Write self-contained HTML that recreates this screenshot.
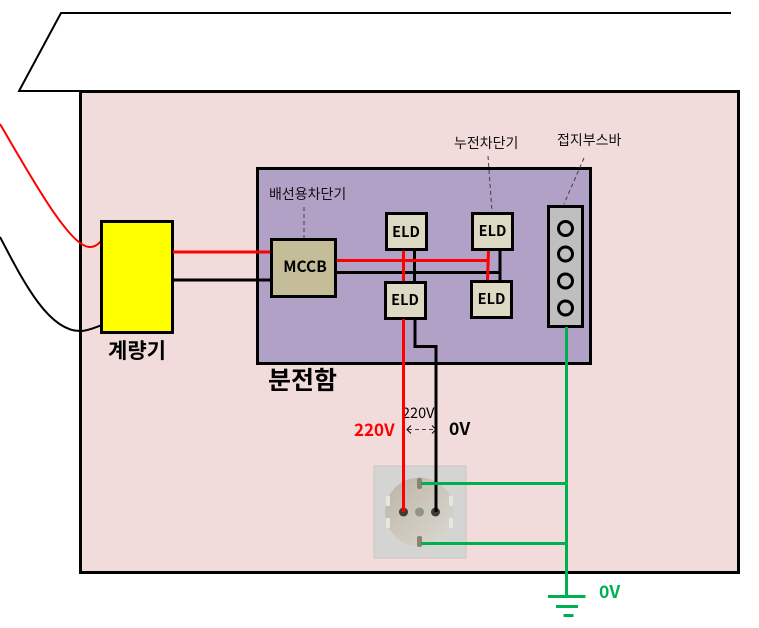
<!DOCTYPE html>
<html><head><meta charset="utf-8">
<style>
html,body{margin:0;padding:0;background:#fff;width:759px;height:628px;overflow:hidden}
svg{display:block}
text{font-family:"Noto Sans CJK KR","NanumGothic",sans-serif}
.e{font-weight:bold;font-size:14.500px;text-anchor:middle}
</style></head><body>
<svg width="759" height="628" viewBox="0 0 759 628" xmlns="http://www.w3.org/2000/svg">
<defs>
<linearGradient id="g" x1="0" y1="0" x2="1" y2="1"><stop offset="0" stop-color="#bdb3a6"/><stop offset="1" stop-color="#dcdad3"/></linearGradient>
</defs>
<path d="M731 13H61L19 91H80" fill="none" stroke="#000" stroke-width="2"/>
<rect x="80.500" y="91.500" width="658" height="481" fill="#f2dcdb" stroke="#000" stroke-width="3"/>
<path d="M0 124C30 175 70 248 90 247C96 247 99 243 102 240" fill="none" stroke="#f00" stroke-width="2"/>
<path d="M0 237C25 285 50 333 82 331C90 330 96 327 102 325" fill="none" stroke="#000" stroke-width="2"/>
<rect x="257.500" y="168.500" width="333" height="195" fill="#b2a1c7" stroke="#000" stroke-width="3"/>
<rect x="101.500" y="221.500" width="71" height="111" fill="#ff0" stroke="#000" stroke-width="3"/>
<path d="M173 252H271" stroke="#f00" stroke-width="3"/>
<path d="M173 280H271" stroke="#000" stroke-width="3"/>
<path d="M336 272.500H500M500 250V281M414.500 250V282" fill="none" stroke="#000" stroke-width="3"/>
<path d="M336 260.500H488M403.500 250V282M488.500 250L487.500 281" fill="none" stroke="#f00" stroke-width="3"/>
<rect x="271.500" y="239.500" width="64" height="57" fill="#c4bd97" stroke="#000" stroke-width="3"/>
<g fill="#ddd9c3" stroke="#000" stroke-width="3">
<rect x="386.500" y="213.500" width="40" height="36"/>
<rect x="472.500" y="213.500" width="40" height="36"/>
<rect x="385.500" y="282.500" width="40" height="36"/>
<rect x="471.500" y="281.500" width="40" height="36"/>
</g>
<rect x="548.500" y="206.500" width="34" height="120" fill="#bfbfbf" stroke="#000" stroke-width="3"/>
<g fill="none" stroke="#000" stroke-width="3">
<circle cx="565.500" cy="228.500" r="7"/>
<circle cx="565.500" cy="254" r="7"/>
<circle cx="565.500" cy="281" r="7"/>
<circle cx="565.500" cy="308" r="7"/>
</g>
<text class="e" x="305" y="272" style="font-size:15.500px">MCCB</text>
<text class="e" x="406" y="237">ELD</text>
<text class="e" x="492.500" y="236">ELD</text>
<text class="e" x="405" y="305">ELD</text>
<text class="e" x="491.500" y="304">ELD</text>
<g stroke="#404040" stroke-width="1" stroke-dasharray="4 3" fill="none">
<path d="M304 207V238"/>
<path d="M488 156L492 212"/>
<path d="M584 158L564 204"/>
<path d="M408 429.500H434"/>
</g>
<path d="M411 425.500L407 429.500L411 433.500M432 425.500L436 429.500L432 433.500" fill="none" stroke="#000" stroke-width="1"/>
<text x="269" y="199" font-size="14" fill="#111">배선용차단기</text>
<text x="454" y="148" font-size="14" fill="#111">누전차단기</text>
<text x="557" y="145" font-size="14" fill="#111">접지부스바</text>
<text x="137" y="358" font-size="21" font-weight="bold" text-anchor="middle" fill="#000">계량기</text>
<text x="268" y="389" font-size="25" font-weight="bold" fill="#000">분전함</text>
<text x="402" y="418" font-size="14.500" fill="#000">220V</text>
<text x="354" y="436" font-size="17" font-weight="bold" fill="#f00">220V</text>
<text x="449" y="435" font-size="17.500" font-weight="bold" fill="#000">0V</text>
<text x="599" y="598" font-size="17.500" font-weight="bold" fill="#00b050">0V</text>
<rect x="374" y="466" width="92" height="92" fill="#d4d5d2" stroke="#c6c6c2" stroke-width="1"/>
<circle cx="419.500" cy="512" r="34.500" fill="url(#g)"/>
<g fill="#e6e6e2">
<rect x="386" y="496" width="4" height="10"/>
<rect x="386" y="518" width="4" height="10"/>
<rect x="449" y="496" width="4" height="10"/>
<rect x="449" y="518" width="4" height="10"/>
</g>
<rect x="417" y="478" width="5" height="11" rx="2" fill="#8d8374"/>
<rect x="417" y="536" width="5" height="11" rx="2" fill="#8d8374"/>
<circle cx="403.500" cy="512" r="4.500" fill="#3c3c3a"/>
<circle cx="419.500" cy="512" r="4.500" fill="#8f9488"/>
<circle cx="435.500" cy="512" r="4.500" fill="#3c3c3a"/>
<path d="M403.500 319V512" stroke="#f00" stroke-width="3"/>
<path d="M415 319V346.500H436V512" fill="none" stroke="#000" stroke-width="3"/>
<g stroke="#00b050" stroke-width="3" fill="none">
<path d="M566.500 327V596"/>
<path d="M421 483.500H566"/>
<path d="M421 543.500H566"/>
<path d="M548 596.500H585.500"/>
<path d="M556 606.500H578"/>
<path d="M563.500 615.500H573.500"/>
</g>
</svg>
</body></html>
